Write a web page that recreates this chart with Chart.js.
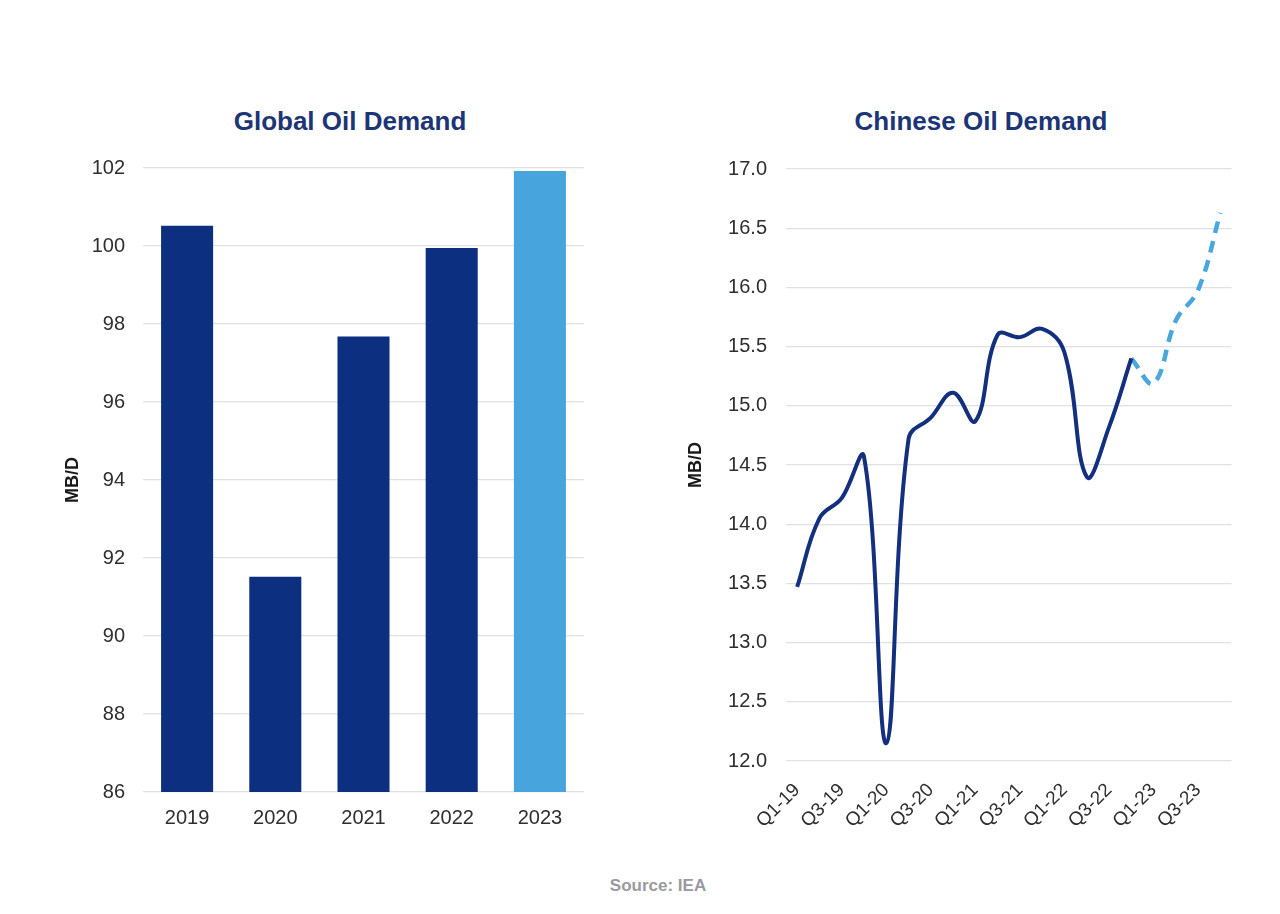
<!DOCTYPE html>
<html>
<head>
<meta charset="utf-8">
<script src="https://cdn.jsdelivr.net/npm/chart.js@4.4.1/dist/chart.umd.min.js"></script>
<style>
  html, body { margin: 0; padding: 0; background: #ffffff; }
  #wrap { position: relative; width: 1280px; height: 914px; overflow: hidden; background: #ffffff; }
  .box { position: absolute; }
  .title { position: absolute; width: 400px; height: 30px; line-height: 30px; text-align: center;
           font-family: "Liberation Sans", Arial, sans-serif; font-weight: bold; font-size: 26px; color: #1b3576; }
  #source { position: absolute; left: 0; width: 1316px; top: 876px; text-align: center;
            font-family: "Liberation Sans", Arial, sans-serif; font-weight: bold; font-size: 17px; color: #9a9a9e; }
</style>
</head>
<body>
<div id="wrap">
  <div class="title" style="left:150px; top:106px;">Global Oil Demand</div>
  <div class="title" style="left:781px; top:106px;">Chinese Oil Demand</div>
  <div class="box" style="left:40px; top:138px; width:560px; height:704px;"><canvas id="left"></canvas></div>
  <div class="box" style="left:670px; top:138px; width:585px; height:703px;"><canvas id="right"></canvas></div>
  <div id="source">Source: IEA</div>
</div>
<script>
// ---- Data ----
const globalYears = ["2019", "2020", "2021", "2022", "2023"];
const globalDemand = [100.52, 91.52, 97.68, 99.95, 101.92];
const globalColors = ["#0d2f7f", "#0d2f7f", "#0d2f7f", "#0d2f7f", "#48a4dc"];

const quarters = ["Q1-19","Q2-19","Q3-19","Q4-19","Q1-20","Q2-20","Q3-20","Q4-20",
                  "Q1-21","Q2-21","Q3-21","Q4-21","Q1-22","Q2-22","Q3-22","Q4-22",
                  "Q1-23","Q2-23","Q3-23","Q4-23"];
const chinaActual = [13.47, 14.05, 14.22, 14.57, 12.15, 14.72, 14.90, 15.11,
                     14.87, 15.60, 15.58, 15.65, 15.45, 14.40, 14.82, 15.40];
const chinaForecast = [15.40, 15.19, 15.72, 15.98, 16.63]; // from Q4-22 to Q4-23

const globalTicks = { min: 86, max: 102, step: 2 };
const chinaTicks = { min: 12, max: 17, step: 0.5 };

// ---- Styles ----
const FONT = "'Liberation Sans', Arial, sans-serif";
const GRID = "#e0e0e7";
const TICK = "#2e2e2e";

Chart.defaults.font.family = FONT;
Chart.defaults.animation = false;

new Chart(document.getElementById("left"), {
  type: "bar",
  data: {
    labels: globalYears,
    datasets: [{ data: globalDemand, backgroundColor: globalColors, borderWidth: 0,
                 categoryPercentage: 1.0, barPercentage: 0.59 }]
  },
  options: {
    responsive: true, maintainAspectRatio: false,
    layout: { padding: { left: 22, right: 16, top: 6, bottom: 0 } },
    plugins: { legend: { display: false }, tooltip: { enabled: false } },
    scales: {
      x: {
        grid: { display: false, drawTicks: false }, border: { display: false },
        ticks: { color: TICK, font: { size: 20 }, padding: 14 },
        afterFit: s => { s.height = 50; }
      },
      y: {
        min: globalTicks.min, max: globalTicks.max,
        grid: { color: GRID, lineWidth: 1.2, drawTicks: false }, border: { display: false },
        ticks: { stepSize: globalTicks.step, color: TICK, font: { size: 20 }, padding: 18 },
        title: { display: true, text: "MB/D", color: "#1a1a1a", font: { size: 18, weight: "bold" }, padding: 0 },
        afterFit: s => { s.width = 81; }
      }
    }
  }
});

const fcPadded = quarters.map((q, i) => {
  const k = i - (quarters.length - chinaForecast.length);
  return k >= 0 ? chinaForecast[k] : null;
});

new Chart(document.getElementById("right"), {
  type: "line",
  data: {
    labels: quarters,
    datasets: [
      { data: chinaActual, borderColor: "#13307f", borderWidth: 4, pointRadius: 0,
        tension: 0.4, fill: false },
      { data: fcPadded, borderColor: "#4aa7de", borderWidth: 4.5, pointRadius: 0,
        borderDash: [12, 8], tension: 0.4, fill: false, spanGaps: false }
    ]
  },
  options: {
    responsive: true, maintainAspectRatio: false,
    layout: { padding: { left: 15, right: 19, top: 4, bottom: 0 } },
    plugins: { legend: { display: false }, tooltip: { enabled: false } },
    scales: {
      x: {
        offset: true,
        grid: { display: false, drawTicks: false }, border: { display: false },
        ticks: { color: TICK, font: { size: 19 }, maxRotation: 45, minRotation: 45, autoSkip: false,
                 padding: 18,
                 callback: function(v, i) { return i % 2 === 0 ? quarters[i] : ""; } },
        afterFit: s => { s.height = 80; }
      },
      y: {
        min: chinaTicks.min, max: chinaTicks.max,
        grid: { color: GRID, lineWidth: 1.2, drawTicks: false }, border: { display: false },
        ticks: { stepSize: chinaTicks.step, color: TICK, font: { size: 20 }, padding: 19,
                 callback: v => Number(v).toFixed(1) },
        title: { display: true, text: "MB/D", color: "#1a1a1a", font: { size: 18, weight: "bold" }, padding: 0 },
        afterFit: s => { s.width = 101; }
      }
    }
  }
});
</script>
</body>
</html>
